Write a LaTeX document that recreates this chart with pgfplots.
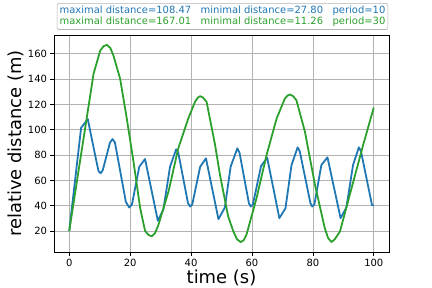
\documentclass[border=0pt]{standalone}
\usepackage{pgfplots}
\pgfplotsset{compat=1.18}
\usepackage{fontspec}
\setmainfont{DejaVu Sans}
\definecolor{mblue}{HTML}{1F77B4}
\definecolor{mgreen}{HTML}{2CA02C}
\begin{document}
\begin{tikzpicture}
\useasboundingbox (0,0) rectangle (432bp,288bp);
\begin{axis}[
  at={(54bp,36bp)}, anchor=south west,
  scale only axis, width=335bp, height=217bp,
  xmin=-5, xmax=105, ymin=3.47, ymax=174.8,
  xtick={0,20,40,60,80,100}, ytick={20,40,60,80,100,120,140,160},
  grid=major, major grid style={color=black!30, line width=0.6pt},
  tick align=outside, tick pos=left, major tick length=3.5bp,
  tick style={black, line width=0.6pt},
  axis line style={line width=0.6pt},
  ticklabel style={font=\fontsize{10}{12}\selectfont},
  /pgf/number format/assume math mode=true,
  xlabel={time (s)}, ylabel={relative distance (m)},
  label style={font=\fontsize{18}{20}\selectfont},
  xlabel style={yshift=4bp},
  ylabel style={yshift=-3bp},
]
\addplot[mblue, line width=1.8pt, line join=round] coordinates {
(0,20) (3.9,101.5) (6.1,108.4) (8.5,80) (9.6,67.5) (10.3,65.6) (11.0,68) (13.4,90) (14.2,92.6) (15.0,90)
(18.6,43) (19.7,38.6) (20.6,41) (23.0,70.8) (24.9,76.9) (29.1,28.1) (30.9,36.8) (33.1,70.8) (35.1,84.5) (35.8,82)
(39.0,42) (39.7,39.4) (40.4,41) (43.0,70.8) (44.9,77.4) (49.0,29.4) (51.1,38.6) (53.0,70.8) (55.2,85.3) (55.9,82)
(59.0,42) (59.6,39.4) (60.3,41) (63.0,71.4) (65.0,77.9) (69.0,30.2) (71.0,38) (73.0,72.2) (75.0,86.1) (75.7,83)
(79.2,42) (79.8,39.4) (80.5,41) (82.8,72.2) (84.8,78.2) (89.1,30.2) (91.0,38.6) (93.2,72.2) (95.1,86.1) (95.8,83)
(99.4,40.7) (100,40)
};
\addplot[mgreen, line width=1.8pt, line join=round] coordinates {
(0,20) (8.0,144.3) (10.2,162.6) (11.3,166) (12.4,167.0) (13.5,164.5) (14.5,158.7) (16.7,140.4) (18.9,108.9) (21.1,74.8)
(23.3,38.1) (24.9,20.2) (26,17) (27.1,15.8) (28.2,18.5) (29.3,25) (32.6,51.2) (35.8,85.3) (39.1,108.9) (41.3,122)
(42.2,125.3) (43.0,126.5) (43.9,125.5) (45.1,122) (47.9,87.9) (49.5,64.3) (52.2,31.5) (53.9,19.7) (55.1,13.5) (56.3,11.3)
(57.3,12.8) (58.2,17.1) (61.5,46) (64.8,80) (68.1,108.9) (70.8,124.6) (71.7,127) (72.5,127.8) (73.5,126.5) (74.6,123.3)
(77.4,98.4) (80.7,56.4) (83.9,22.4) (85.0,14.5) (86.1,11.3) (87.2,13.5) (88.9,19.7) (92.7,53.8) (96.5,87.9) (100,117.5)
};
\end{axis}
\node[draw=black!30, rounded corners=2pt, line width=0.6pt, align=left, inner sep=2.5bp,
  font=\fontsize{10}{11.5}\selectfont] at (222.5bp,271.5bp)
  {\textcolor{mblue}{maximal distance=108.47\ \ \ minimal distance=27.80\ \ \ period=10}\\
   \textcolor{mgreen}{maximal distance=167.01\ \ \ minimal distance=11.26\ \ \ period=30}};
\end{tikzpicture}
\end{document}
